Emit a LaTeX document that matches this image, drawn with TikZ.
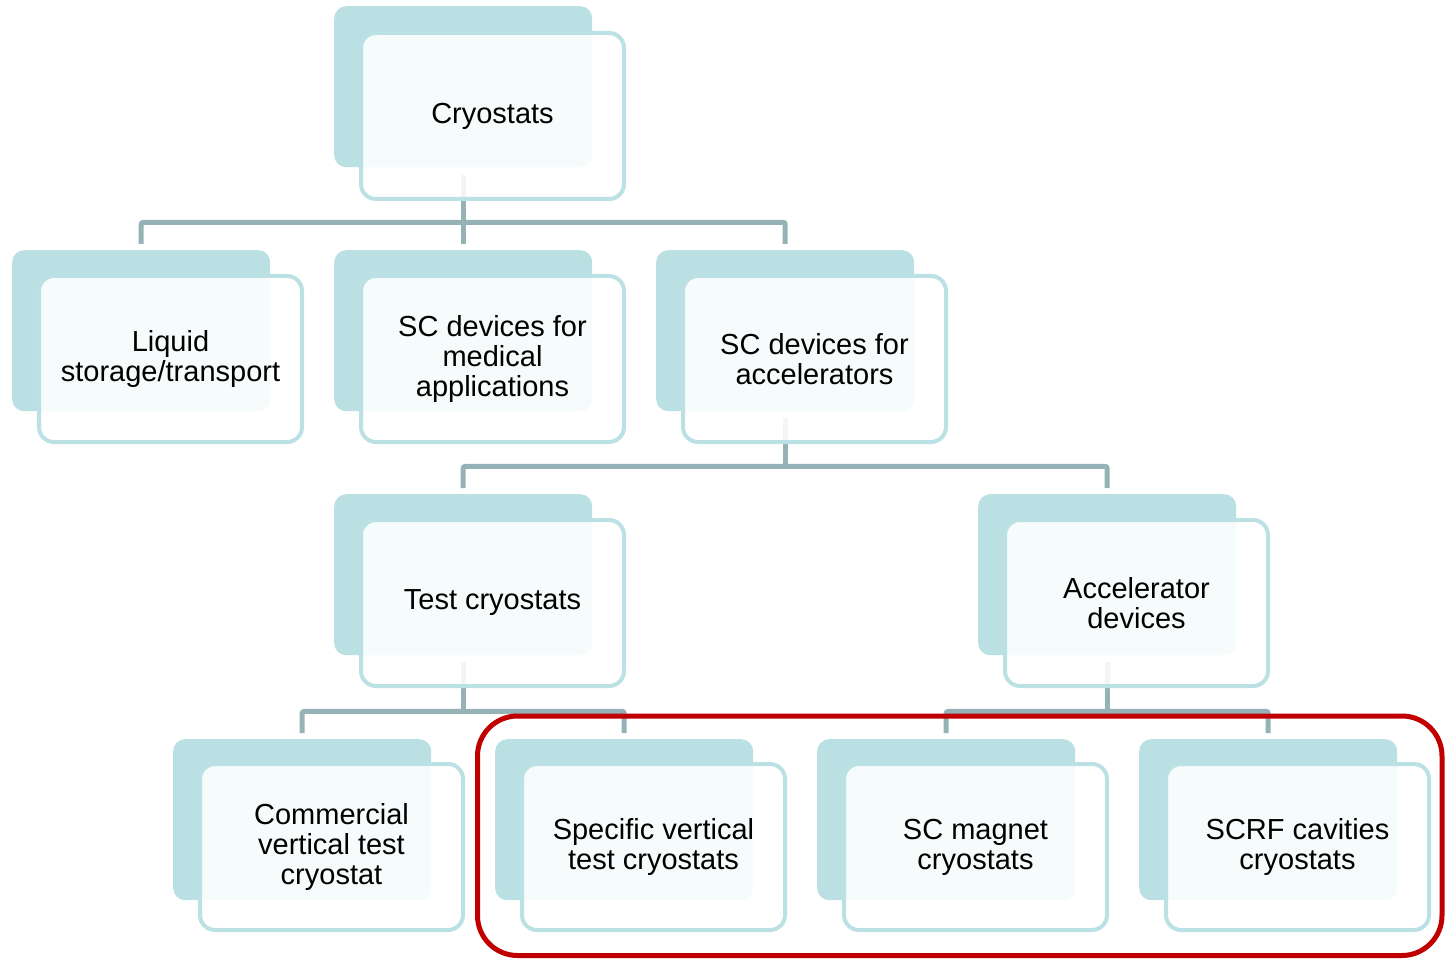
\documentclass[tikz,border=0pt]{standalone}
\usepackage{fontspec}
\setmainfont{Liberation Sans}
\definecolor{backteal}{HTML}{BAE0E3}
\definecolor{edgeteal}{HTML}{BCE1E4}
\definecolor{conngray}{HTML}{95B3B7}
\definecolor{hilite}{HTML}{C00000}
\tikzset{
  backbox/.style={draw=none, fill=backteal, rounded corners=12pt,
    minimum width=258pt, minimum height=161pt, anchor=north west, inner sep=0pt},
  frontbox/.style={draw=edgeteal, line width=4pt, fill=white, fill opacity=0.88,
    text opacity=1, rounded corners=15pt, minimum width=263pt, minimum height=166pt,
    anchor=north west, inner sep=0pt, align=center,
    font=\fontsize{29}{30}\selectfont},
  conn/.style={draw=conngray, line width=5pt, rounded corners=2pt},
  groupframe/.style={draw=hilite, line width=5pt, rounded corners=40pt}
}
\begin{document}
\begin{tikzpicture}[x=1pt,y=-1pt]
\useasboundingbox (0,0) rectangle (1452,960);

% back cards
\node[backbox] (cry)  at (334,6)   {};
\node[backbox] (liq)  at (12,250)  {};
\node[backbox] (med)  at (334,250) {};
\node[backbox] (acc)  at (656,250) {};
\node[backbox] (test) at (334,494) {};
\node[backbox] (adev) at (978,494) {};
\node[backbox] (comm) at (173,739) {};
\node[backbox] (spec) at (495,739) {};
\node[backbox] (mag)  at (817,739) {};
\node[backbox] (scrf) at (1139,739) {};

% connectors
\draw[conn] ([yshift=-8pt]cry.south) -- ([yshift=6pt]med.north);
\draw[conn] ([yshift=6pt]liq.north) |- ([yshift=-55pt]cry.south) -| ([yshift=6pt]acc.north);

\draw[conn] ([yshift=-7pt]acc.south) -- ([yshift=-55pt]acc.south);
\draw[conn] ([yshift=6pt]test.north) |- ([yshift=-55pt]acc.south) -| ([yshift=6pt]adev.north);

\draw[conn] ([yshift=-7pt]test.south) -- ([yshift=-56pt]test.south);
\draw[conn] ([yshift=6pt]comm.north) |- ([yshift=-56pt]test.south) -| ([yshift=6pt]spec.north);

\draw[conn] ([yshift=-7pt]adev.south) -- ([yshift=-56pt]adev.south);
\draw[conn] ([yshift=6pt]mag.north) |- ([yshift=-56pt]adev.south) -| ([yshift=6pt]scrf.north);

% front cards with the labels
\node[frontbox] (cry-f)  at (359,31)   {Cryostats};
\node[frontbox] (liq-f)  at (37,274)   {Liquid\\storage/transport};
\node[frontbox] (med-f)  at (359,274)  {SC devices for\\medical\\applications};
\node[frontbox] (acc-f)  at (681,274)  {SC devices for\\accelerators};
\node[frontbox] (test-f) at (359,518)  {Test cryostats};
\node[frontbox] (adev-f) at (1003,518) {Accelerator\\devices};
\node[frontbox] (comm-f) at (198,762)  {Commercial\\vertical test\\cryostat};
\node[frontbox] (spec-f) at (520,762)  {Specific vertical\\test cryostats};
\node[frontbox] (mag-f)  at (842,762)  {SC magnet\\cryostats};
\node[frontbox] (scrf-f) at (1164,762) {SCRF cavities\\cryostats};

% frame around the specific cryostats
\draw[groupframe] (477.5,716) rectangle (1442,955.5);
\end{tikzpicture}
\end{document}
